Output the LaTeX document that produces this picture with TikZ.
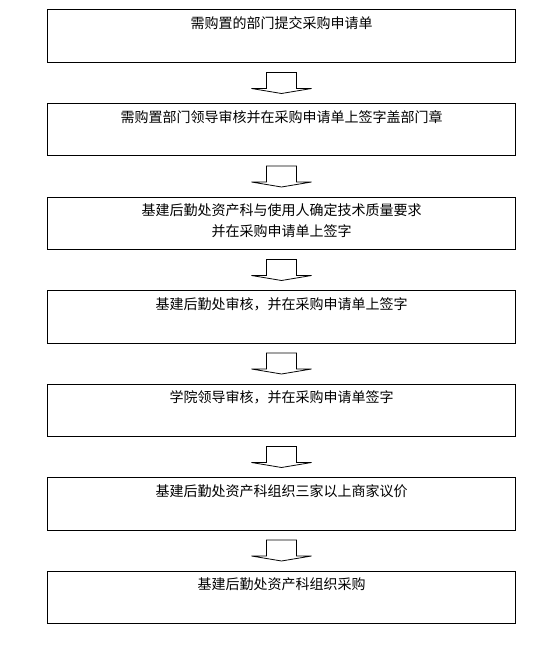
\documentclass[tikz,border=0pt]{standalone}
\usepackage{fontspec}
\newfontfamily\cjk{Noto Sans CJK SC}
\usetikzlibrary{calc}
\tikzset{
  flowbox/.style={draw=black, line width=1pt, minimum width=468pt, minimum height=52.5pt, inner sep=0pt, fill=white},
  flowtext/.style={anchor=north, inner sep=0pt, align=center, font=\cjk\fontsize{14}{21}\selectfont},
  blockarrow/.pic={
    \draw[line width=0.8pt, fill=white, line join=miter]
      (-15,-10.5) -- (15,-10.5) -- (15,5.5) -- (30,5.5) -- (0,10.5) -- (-30,5.5) -- (-15,5.5) -- cycle;
  }
}
\begin{document}
\begin{tikzpicture}[x=1pt, y=-1pt]
\useasboundingbox[fill=white] (0,0) rectangle (552,655);
\foreach \i/\t in {1/10, 2/103.5, 3/197, 4/290.5, 5/384, 6/477.5, 7/571} {
  \node[flowbox] (b\i) at (281.5,\t+26.25) {};
}
\node[flowtext] (t1) at ($(b1.north)+(0,7)$) {需购置的部门提交采购申请单};
\node[flowtext] (t2) at ($(b2.north)+(0,7)$) {需购置部门领导审核并在采购申请单上签字盖部门章};
\node[flowtext] (t3) at ($(b3.north)+(0,7)$) {基建后勤处资产科与使用人确定技术质量要求\\并在采购申请单上签字};
\node[flowtext] (t4) at ($(b4.north)+(0,7)$) {基建后勤处审核，并在采购申请单上签字};
\node[flowtext] (t5) at ($(b5.north)+(0,7)$) {学院领导审核，并在采购申请单签字};
\node[flowtext] (t6) at ($(b6.north)+(0,7)$) {基建后勤处资产科组织三家以上商家议价};
\node[flowtext] (t7) at ($(b7.north)+(0,7)$) {基建后勤处资产科组织采购};
\foreach \i [evaluate=\i as \j using int(\i+1)] in {1,...,6} {
  \coordinate (m\i) at ($(b\i.south)!0.5!(b\j.north)$);
  \pic at (m\i) {blockarrow};
}
\end{tikzpicture}
\end{document}
